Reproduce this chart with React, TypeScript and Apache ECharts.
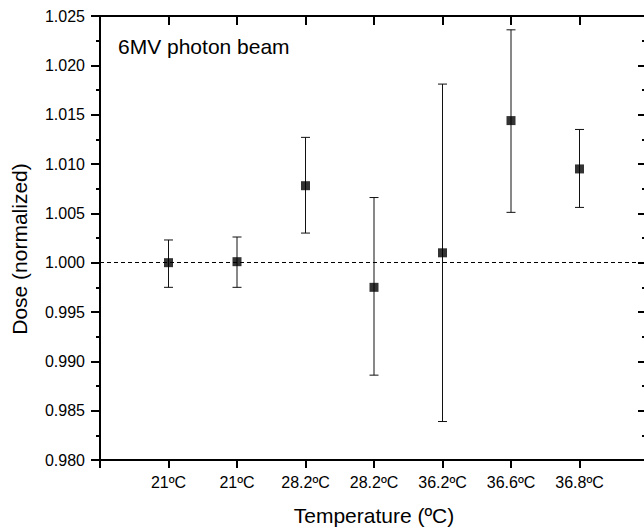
import React, { useEffect, useRef } from "react";
import * as echarts from "echarts";

const categories = ["21ºC", "21ºC", "28.2ºC", "28.2ºC", "36.2ºC", "36.6ºC", "36.8ºC"];
const doseValues = [1.0, 1.0001, 1.0078, 0.9975, 1.001, 1.0144, 1.0095];
const errorLow = [0.9975, 0.9975, 1.003, 0.9886, 0.9839, 1.0051, 1.0056];
const errorHigh = [1.0023, 1.0026, 1.0127, 1.0066, 1.0181, 1.0236, 1.0135];
const yMin = 0.98;
const yMax = 1.025;
const yStep = 0.005;
const referenceDose = 1.0;
const insetLabel = "6MV photon beam";
const xTitle = "Temperature (ºC)";
const yTitle = "Dose (normalized)";

const FONT = "'Liberation Sans', Arial, Helvetica, sans-serif";

export default function App() {
  const ref = useRef<HTMLDivElement>(null);

  useEffect(() => {
    if (!ref.current) return;
    const chart = echarts.init(ref.current, null, { renderer: "svg" });

    const points = doseValues.map((v, i) => [i + 1, v]);
    const bars = errorLow.map((lo, i) => [i + 1, lo, errorHigh[i]]);
    const catPositions = categories.map((_, i) => i + 1);

    const axisLine = { show: true, onZero: false, lineStyle: { color: "#000", width: 2 } };

    chart.setOption({
      animation: false,
      backgroundColor: "#fff",
      textStyle: { fontFamily: FONT },
      grid: {
        left: 100,
        top: 16,
        width: 548,
        height: 444,
        containLabel: false,
        outerBoundsMode: "none",
      },
      xAxis: [
        {
          type: "value",
          position: "bottom",
          min: 0,
          max: categories.length + 1,
          interval: 1,
          axisLine,
          axisTick: { show: true, inside: false, length: 8, lineStyle: { color: "#000", width: 2 } },
          axisLabel: {
            show: true,
            margin: 14,
            fontSize: 16,
            color: "#000",
            fontFamily: FONT,
            formatter: (v: number) => categories[Math.round(v) - 1] ?? "",
          },
          splitLine: { show: false },
          name: xTitle,
          nameLocation: "middle",
          nameGap: 45,
          nameTextStyle: { fontSize: 21, color: "#000", fontFamily: FONT },
        },
        {
          type: "value",
          position: "top",
          min: 0,
          max: categories.length + 1,
          interval: 1,
          axisLine,
          axisTick: {
            show: true,
            inside: true,
            length: 9,
            customValues: catPositions,
            lineStyle: { color: "#000", width: 2 },
          },
          axisLabel: { show: false },
          splitLine: { show: false },
        },
      ],
      yAxis: [
        {
          type: "value",
          position: "left",
          min: yMin,
          max: yMax,
          interval: yStep,
          axisLine,
          axisTick: { show: true, inside: false, length: 9, lineStyle: { color: "#000", width: 2 } },
          minorTick: { show: true, splitNumber: 2, length: 4, lineStyle: { color: "#000", width: 2 } },
          axisLabel: {
            margin: 15,
            fontSize: 16,
            color: "#000",
            fontFamily: FONT,
            formatter: (v: number) => v.toFixed(3),
          },
          splitLine: { show: false },
          minorSplitLine: { show: false },
          name: yTitle,
          nameLocation: "middle",
          nameRotate: 90,
          nameGap: 70,
          nameTextStyle: { fontSize: 21, color: "#000", fontFamily: FONT, padding: [0, 22, 0, 0] },
        },
        {
          type: "value",
          position: "right",
          min: yMin,
          max: yMax,
          interval: yStep,
          axisLine: { show: true, onZero: false, lineStyle: { color: "#000", width: 2 } },
          axisTick: { show: true, inside: true, length: 10, lineStyle: { color: "#000", width: 2 } },
          minorTick: { show: true, splitNumber: 2, length: 6, lineStyle: { color: "#000", width: 2 } },
          axisLabel: { show: false },
          splitLine: { show: false },
          minorSplitLine: { show: false },
        },
      ],
      graphic: [
        {
          type: "text",
          left: 118,
          top: 36,
          style: { text: insetLabel, fontSize: 21, fill: "#000", fontFamily: FONT },
        },
      ],
      series: [
        {
          type: "custom",
          xAxisIndex: 0,
          yAxisIndex: 0,
          z: 2,
          encode: { x: 0, y: [1, 2] },
          data: bars,
          renderItem: (params: any, api: any) => {
            const x = api.value(0);
            const lo = api.coord([x, api.value(1)]);
            const hi = api.coord([x, api.value(2)]);
            const hw = 4.5;
            const st = { stroke: "#111", lineWidth: 1 };
            return {
              type: "group",
              children: [
                { type: "line", shape: { x1: lo[0], y1: lo[1], x2: hi[0], y2: hi[1] }, style: st },
                { type: "line", shape: { x1: lo[0] - hw, y1: lo[1], x2: lo[0] + hw, y2: lo[1] }, style: st },
                { type: "line", shape: { x1: hi[0] - hw, y1: hi[1], x2: hi[0] + hw, y2: hi[1] }, style: st },
              ],
            };
          },
        },
        {
          type: "scatter",
          xAxisIndex: 0,
          yAxisIndex: 0,
          z: 3,
          symbol: "rect",
          symbolSize: 9,
          itemStyle: { color: "#000" },
          data: points,
          markLine: {
            silent: true,
            symbol: "none",
            label: { show: false },
            lineStyle: { color: "#000", type: [4, 3], width: 1.2 },
            data: [{ yAxis: referenceDose }],
          },
        },
      ],
    });

    return () => chart.dispose();
  }, []);

  return (
    <div
      ref={ref}
      style={{ position: "fixed", left: 0, top: 0, width: 644, height: 529, background: "#fff" }}
    />
  );
}
